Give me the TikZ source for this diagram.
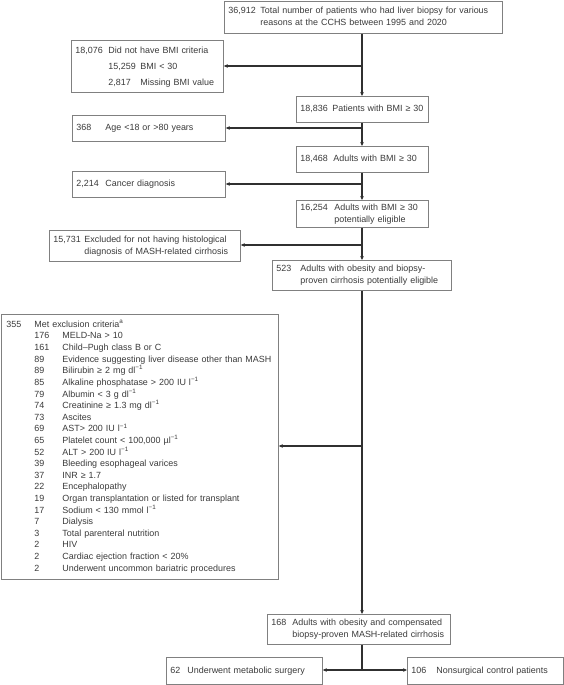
\documentclass[tikz,border=0pt]{standalone}
\usepackage{fontspec}
\setmainfont{Liberation Sans}
\usetikzlibrary{arrows.meta}
\definecolor{boxc}{HTML}{808080}
\definecolor{linec}{HTML}{303030}
\definecolor{txt}{HTML}{3A3A3A}
\newcommand{\myinv}{\textsuperscript{−1}}
\begin{document}
\begin{tikzpicture}[x=1pt,y=-1pt,
  box/.style={draw=boxc, line width=0.8pt, anchor=north west, inner xsep=4pt, inner ysep=0pt, align=left, text=txt, font=\fontsize{8.95}{11.6}\selectfont},
  conn/.style={draw=linec, line width=1.1pt},
  arr/.style={conn, -{Stealth[length=4pt,width=3.6pt]}}]
\useasboundingbox (0,0) rectangle (564,685);
% boxes
\node[box, text width=270pt, minimum height=32pt] (top) at (224,1)
 {\begin{tabular}{@{}p{32pt}@{}l@{}}36,912 & Total number of patients who had liver biopsy for various\\ & reasons at the CCHS between 1995 and 2020\end{tabular}};
\node[box, text width=144pt, minimum height=52pt] (b18076) at (71,40)
 {\def\arraystretch{1.35}\begin{tabular}{@{}p{33pt}@{}p{32pt}@{}l@{}}18,076 & \multicolumn{2}{@{}l@{}}{Did not have BMI criteria}\\ & 15,259 & BMI < 30\\ & 2,817 & Missing BMI value\end{tabular}};
\node[box, text width=124pt, minimum height=26pt] (b18836) at (296,96)
 {\begin{tabular}{@{}p{32pt}@{}l@{}}18,836 & Patients with BMI ≥ 30\end{tabular}};
\node[box, text width=145pt, minimum height=26pt] (b368) at (72,115)
 {\begin{tabular}{@{}p{29pt}@{}l@{}}368 & Age <18 or >80 years\end{tabular}};
\node[box, text width=124pt, minimum height=26pt] (b18468) at (296,146)
 {\begin{tabular}{@{}p{33pt}@{}l@{}}18,468 & Adults with BMI ≥ 30\end{tabular}};
\node[box, text width=145pt, minimum height=26pt] (b2214) at (72,171)
 {\begin{tabular}{@{}p{29pt}@{}l@{}}2,214 & Cancer diagnosis\end{tabular}};
\node[box, text width=124pt, minimum height=27pt] (b16254) at (296,200)
 {\begin{tabular}{@{}p{34pt}@{}l@{}}16,254 & Adults with BMI ≥ 30\\ & potentially eligible\end{tabular}};
\node[box, text width=183pt, minimum height=31pt] (b15731) at (49,230)
 {\begin{tabular}{@{}p{31pt}@{}l@{}}15,731 & Excluded for not having histological\\ & diagnosis of MASH-related cirrhosis\end{tabular}};
\node[box, text width=171pt, minimum height=30pt] (b523) at (272,260)
 {\begin{tabular}{@{}p{24pt}@{}l@{}}523 & Adults with obesity and biopsy-\\ & proven cirrhosis potentially eligible\end{tabular}};
\node[box, inner xsep=5pt, text width=267pt, minimum height=265pt] (b355) at (1,314)
 {\begin{tabular}{@{}p{28pt}@{}p{28pt}@{}l@{}}
355 & \multicolumn{2}{@{}l@{}}{Met exclusion criteria\textsuperscript{a}}\\
 & 176 & MELD-Na > 10\\
 & 161 & Child–Pugh class B or C\\
 & 89 & Evidence suggesting liver disease other than MASH\\
 & 89 & Bilirubin ≥ 2 mg dl\myinv\\
 & 85 & Alkaline phosphatase > 200 IU l\myinv\\
 & 79 & Albumin < 3 g dl\myinv\\
 & 74 & Creatinine ≥ 1.3 mg dl\myinv\\
 & 73 & Ascites\\
 & 69 & AST> 200 IU l\myinv\\
 & 65 & Platelet count < 100,000 µl\myinv\\
 & 52 & ALT > 200 IU l\myinv\\
 & 39 & Bleeding esophageal varices\\
 & 37 & INR ≥ 1.7\\
 & 22 & Encephalopathy\\
 & 19 & Organ transplantation or listed for transplant\\
 & 17 & Sodium < 130 mmol l\myinv\\
 & 7 & Dialysis\\
 & 3 & Total parenteral nutrition\\
 & 2 & HIV\\
 & 2 & Cardiac ejection fraction < 20\%\\
 & 2 & Underwent uncommon bariatric procedures
\end{tabular}};
\node[box, text width=175pt, minimum height=30pt] (b168) at (267,614)
 {\begin{tabular}{@{}p{21pt}@{}l@{}}168 & Adults with obesity and compensated\\ & biopsy-proven MASH-related cirrhosis\end{tabular}};
\node[box, text width=148pt, minimum height=27pt] (b62) at (166,657)
 {\begin{tabular}{@{}p{17pt}@{}l@{}}62 & Underwent metabolic surgery\end{tabular}};
\node[box, text width=148pt, minimum height=27pt] (b106) at (407,657)
 {\begin{tabular}{@{}p{25pt}@{}l@{}}106 & Nonsurgical control patients\end{tabular}};
% junctions
\coordinate (sp) at (362,0);
\coordinate (j1) at (362,66);
\coordinate (j2) at (362,128);
\coordinate (j3) at (362,184);
\coordinate (j4) at (362,245);
\coordinate (j5) at (362,446);
\coordinate (j6) at (362,670);
% connectors
\draw[arr] (top.south -| sp) -- (b18836.north -| sp);
\draw[arr] (j1) -- (j1 -| b18076.east);
\draw[arr] (b18836.south -| sp) -- (b18468.north -| sp);
\draw[arr] (j2) -- (j2 -| b368.east);
\draw[arr] (b18468.south -| sp) -- (b16254.north -| sp);
\draw[arr] (j3) -- (j3 -| b2214.east);
\draw[arr] (b16254.south -| sp) -- (b523.north -| sp);
\draw[arr] (j4) -- (j4 -| b15731.east);
\draw[arr] (b523.south -| sp) -- (b168.north -| sp);
\draw[arr] (j5) -- (j5 -| b355.east);
\draw[conn] (b168.south -| sp) -- (j6);
\draw[arr] (j6) -- (j6 -| b62.east);
\draw[arr] (j6) -- (j6 -| b106.west);
\end{tikzpicture}
\end{document}
